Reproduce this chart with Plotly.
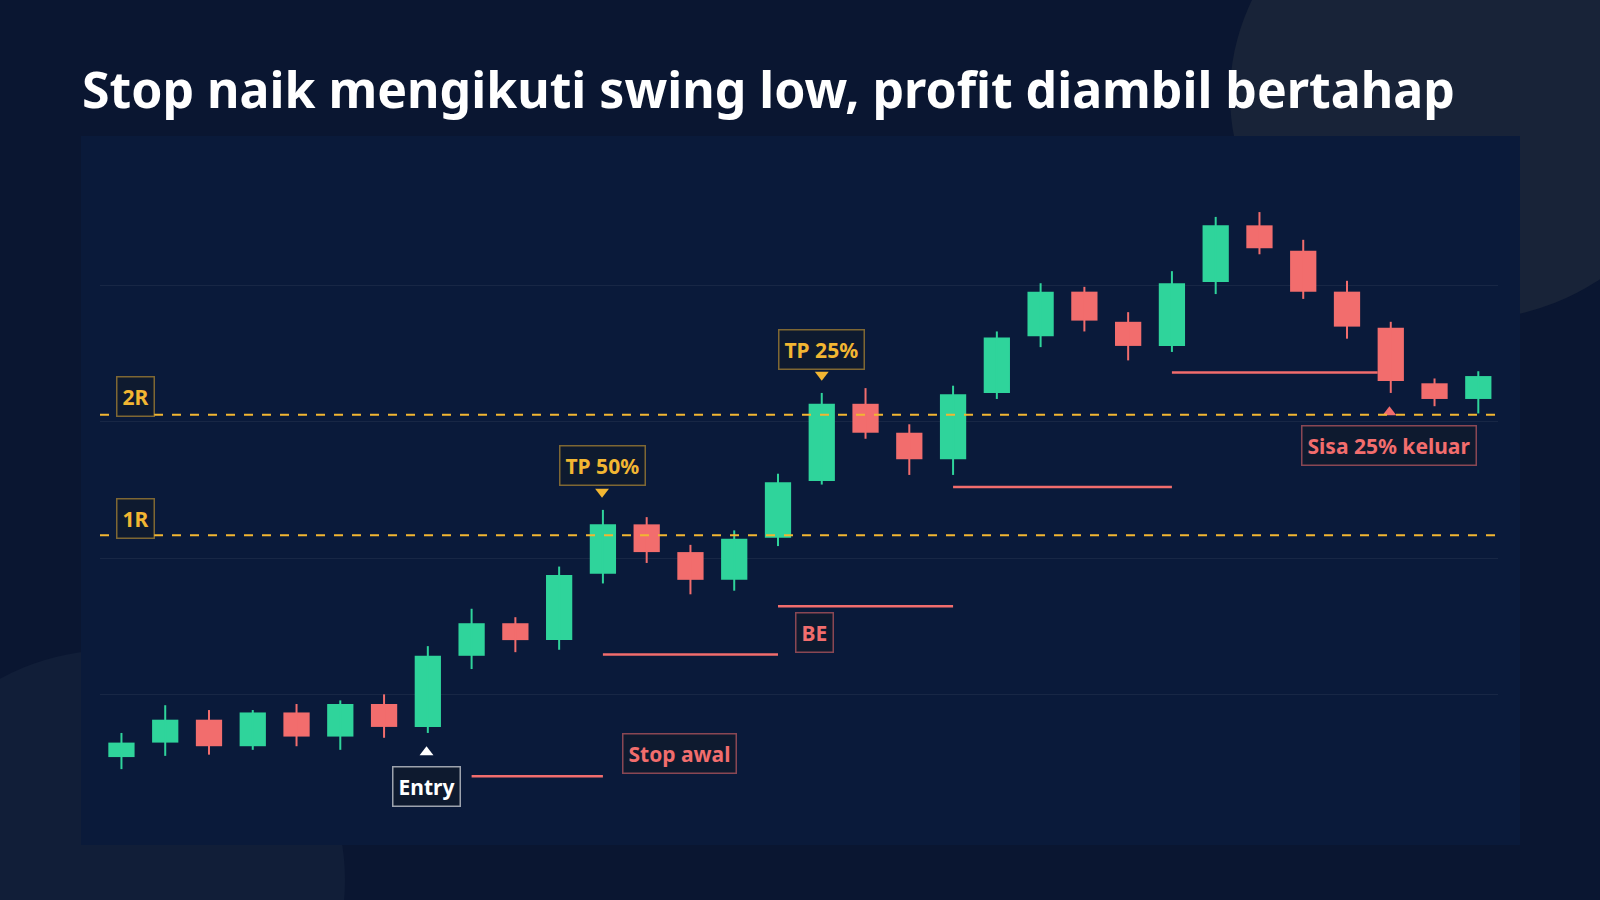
import plotly.graph_objects as go

idx = list(range(1, 33))
opens  = [91.6, 92.8, 94.7, 92.5, 95.3, 93.3, 96.0, 94.1, 100.0, 102.7, 101.3, 106.8, 110.9, 108.6, 106.3, 109.8,
          114.5, 120.9, 118.5, 116.3, 121.8, 126.5, 130.2, 127.7, 125.7, 131.0, 135.7, 133.6, 130.2, 127.2, 122.6, 121.3]
closes = [92.8, 94.7, 92.5, 95.3, 93.3, 96.0, 94.1, 100.0, 102.7, 101.3, 106.7, 110.9, 108.6, 106.3, 109.7, 114.4,
          120.9, 118.5, 116.3, 121.7, 126.4, 130.2, 127.8, 125.7, 130.9, 135.7, 133.8, 130.2, 127.3, 122.8, 121.3, 123.2]
highs  = [93.6, 95.9, 95.5, 95.5, 96.0, 96.3, 96.8, 100.8, 103.9, 103.2, 107.4, 112.1, 111.5, 109.2, 110.4, 115.1,
          121.8, 122.2, 119.2, 122.4, 126.9, 130.9, 130.6, 128.5, 131.9, 136.4, 136.8, 134.5, 131.1, 127.7, 123.0, 123.6]
lows   = [90.6, 91.7, 91.8, 92.2, 92.5, 92.2, 93.2, 93.6, 98.9, 100.3, 100.5, 106.0, 107.7, 105.1, 105.4, 109.1,
          114.2, 118.0, 115.0, 115.0, 121.3, 125.6, 126.9, 124.5, 125.2, 130.0, 133.3, 129.6, 126.3, 121.8, 120.7, 120.1]

r_levels = [110.0, 120.0]
r_labels = ["1R", "2R"]
stop_x0 = [9.0, 12.0, 16.0, 20.0, 25.0]
stop_x1 = [12.0, 16.0, 20.0, 25.0, 29.7]
stop_y  = [90.0, 100.1, 104.1, 114.0, 123.5]

GREEN = "#2fd49b"
RED = "#f26d6d"
GOLD = "#f2b632"

W, H = 1600, 900
PL, PR, PT, PB = 100, 1498, 153, 827
def px(x): return (x - PL) / (PR - PL)
def py(y): return (PB - y) / (PB - PT)

fig = go.Figure()

for col, cond in [(GREEN, lambda o, c: c >= o), (RED, lambda o, c: c < o)]:
    wx, wy, bx, bb, bh = [], [], [], [], []
    for i, o, c, h, l in zip(idx, opens, closes, highs, lows):
        if cond(o, c):
            wx += [i, i, None]; wy += [l, h, None]
            bx.append(i); bb.append(min(o, c)); bh.append(abs(c - o))
    fig.add_trace(go.Scatter(x=wx, y=wy, mode="lines", line=dict(color=col, width=2), hoverinfo="skip"))
    fig.add_trace(go.Bar(x=bx, y=bh, base=bb, width=0.6, marker=dict(color=col, line=dict(width=0)),
                         hoverinfo="skip"))

sx, sy = [], []
for a, b, y in zip(stop_x0, stop_x1, stop_y):
    sx += [a, b, None]; sy += [y, y, None]
fig.add_trace(go.Scatter(x=sx, y=sy, mode="lines", line=dict(color=RED, width=2.5), hoverinfo="skip"))

for lv in r_levels:
    fig.add_shape(type="line", xref="paper", x0=0, x1=1, y0=lv, y1=lv,
                  line=dict(color=GOLD, width=2, dash="dash"), layer="above")

fig.add_trace(go.Scatter(x=[11.98, 17.0], y=[113.6, 123.3], mode="markers",
                         marker=dict(symbol="triangle-down", size=12, color=GOLD), hoverinfo="skip"))
fig.add_trace(go.Scatter(x=[7.97], y=[92.0], mode="markers",
                         marker=dict(symbol="triangle-up", size=12, color="white"), hoverinfo="skip"))
fig.add_trace(go.Scatter(x=[29.97], y=[120.2], mode="markers",
                         marker=dict(symbol="triangle-up", size=12, color=RED), hoverinfo="skip"))

def label(x, y, text, color, border):
    fig.add_annotation(x=x, y=y, text="<b>" + text + "</b>", showarrow=False,
                       font=dict(family="Noto Sans", size=21, color=color),
                       bgcolor="#0e1a2f", bordercolor=border, borderwidth=1.5, borderpad=5)

label(1.33, 121.5, "2R", GOLD, "rgba(242,182,50,0.5)")
label(1.33, 111.4, "1R", GOLD, "rgba(242,182,50,0.5)")
label(11.98, 115.8, "TP 50%", GOLD, "rgba(242,182,50,0.5)")
label(17.0, 125.4, "TP 25%", GOLD, "rgba(242,182,50,0.5)")
label(7.97, 89.2, "Entry", "white", "rgba(255,255,255,0.6)")
label(13.75, 91.9, "Stop awal", RED, "rgba(242,109,109,0.55)")
label(16.83, 101.9, "BE", RED, "rgba(242,109,109,0.55)")
label(29.97, 117.4, "Sisa 25% keluar", RED, "rgba(242,109,109,0.55)")

fig.add_shape(type="circle", xref="paper", yref="paper", layer="below",
              x0=px(1230), x1=px(1700), y0=py(-130), y1=py(320),
              fillcolor="#182338", line=dict(width=0))
fig.add_shape(type="circle", xref="paper", yref="paper", layer="below",
              x0=px(-120), x1=px(345), y0=py(650), y1=py(1110),
              fillcolor="#111e38", line=dict(width=0))
fig.add_shape(type="rect", xref="paper", yref="paper", layer="below",
              x0=px(81), x1=px(1520), y0=py(136), y1=py(845),
              fillcolor="#0a1a3a", line=dict(width=0))

fig.add_annotation(xref="paper", yref="paper", x=px(80), y=py(89), xanchor="left", yanchor="middle",
                   text="<b>Stop naik mengikuti swing low, profit diambil bertahap</b>", showarrow=False,
                   font=dict(family="Noto Sans", size=50, color="white"))

fig.update_layout(
    width=W, height=H, showlegend=False, barmode="overlay",
    margin=dict(l=PL, r=W - PR, t=PT, b=H - PB),
    paper_bgcolor="#0a1631", plot_bgcolor="rgba(0,0,0,0)",
    xaxis=dict(range=[0.51, 32.45], visible=False, fixedrange=True),
    yaxis=dict(range=[85.8, 141.7], showticklabels=False, zeroline=False,
               showgrid=True, gridcolor="rgba(255,255,255,0.06)", gridwidth=1,
               tick0=96.8, dtick=11.3, fixedrange=True),
)

fig.write_html("out.html", config={"displayModeBar": False},
               post_script="document.body.style.margin='0';document.body.style.background='#0a1631';")
